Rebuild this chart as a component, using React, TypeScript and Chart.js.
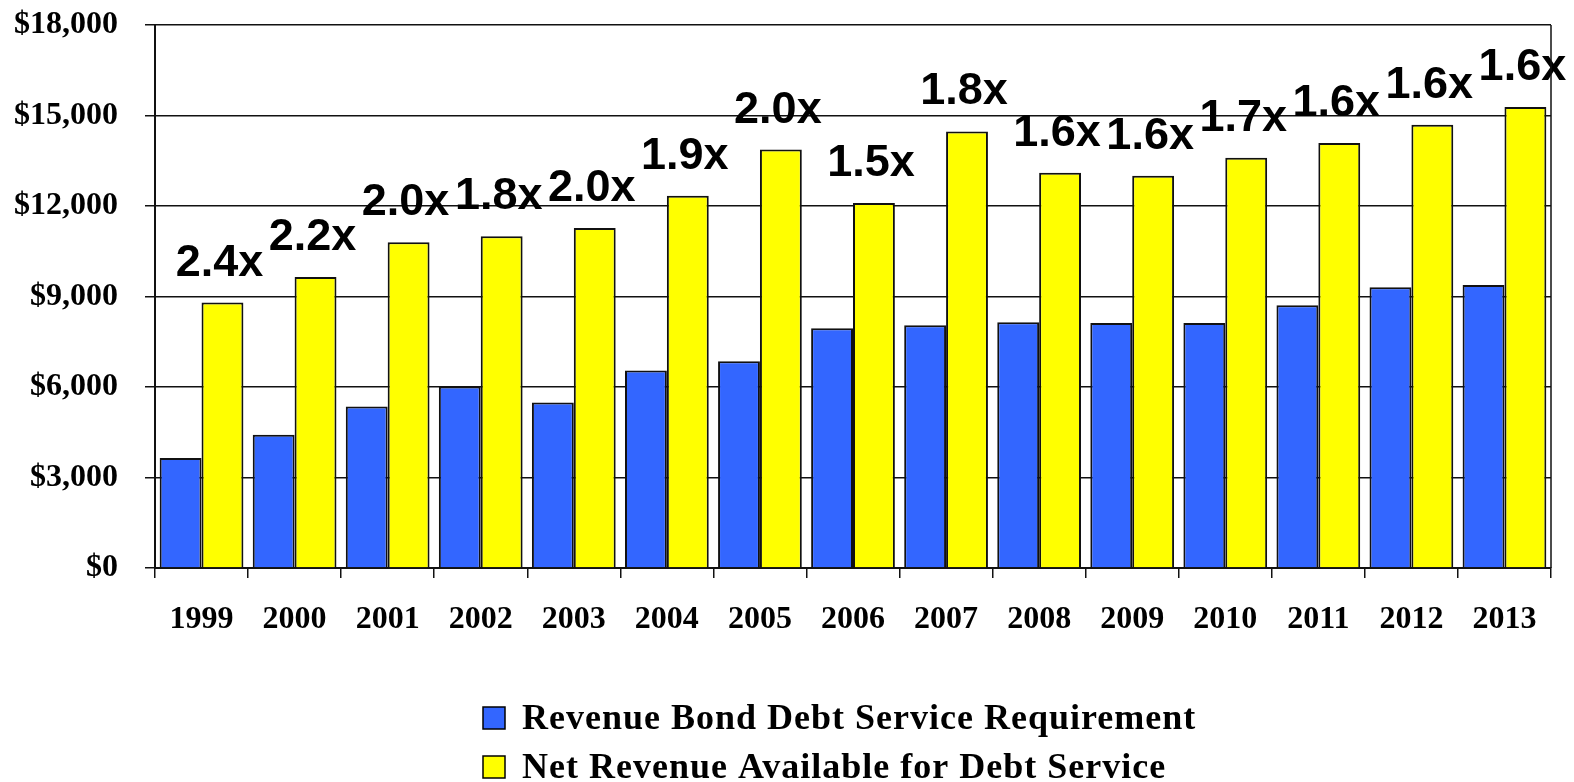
import React, { useEffect, useRef } from 'react';
import { Chart, registerables } from 'chart.js';

Chart.register(...registerables);

const years = ['1999', '2000', '2001', '2002', '2003', '2004', '2005', '2006', '2007', '2008', '2009', '2010', '2011', '2012', '2013'];
const debtService = [3650, 4420, 5350, 6020, 5490, 6550, 6850, 7950, 8050, 8150, 8120, 8120, 8710, 9310, 9380];
const netRevenue = [8800, 9650, 10800, 11000, 11270, 12340, 13870, 12100, 14470, 13100, 13000, 13600, 14090, 14690, 15280];
const coverageLabels = ['2.4x', '2.2x', '2.0x', '1.8x', '2.0x', '1.9x', '2.0x', '1.5x', '1.8x', '1.6x', '1.6x', '1.7x', '1.6x', '1.6x', '1.6x'];
const seriesNames = ['Revenue Bond Debt Service Requirement', 'Net Revenue Available for Debt Service'];
const seriesColors = ['#3366FF', '#FFFF00'];
const yMin = 0;
const yMax = 18000;
const yStep = 3000;

const SERIF = '"Liberation Serif", "Times New Roman", serif';
const SANS = '"Liberation Sans", Arial, sans-serif';

const coveragePlugin = {
  id: 'coverageLabels',
  afterDatasetsDraw(chart: any) {
    const ctx = chart.ctx;
    const meta = chart.getDatasetMeta(1);
    ctx.save();
    ctx.font = `bold 45px ${SANS}`;
    ctx.fillStyle = '#000';
    ctx.textAlign = 'center';
    ctx.textBaseline = 'alphabetic';
    meta.data.forEach((el: any, i: number) => {
      ctx.fillText(coverageLabels[i], el.x - 3, el.y - 27);
    });
    ctx.restore();
  },
};

const framePlugin = {
  id: 'frameAndLegend',
  afterDraw(chart: any) {
    const ctx = chart.ctx;
    const { top, bottom, right } = chart.chartArea;
    ctx.save();
    ctx.strokeStyle = '#111';
    ctx.lineWidth = 1.5;
    ctx.beginPath();
    ctx.moveTo(right, top);
    ctx.lineTo(right, bottom);
    ctx.stroke();

    // legend
    const boxX = 483;
    const textX = 522;
    const baselines = [bottom + 161, bottom + 210];
    ctx.font = `bold 36px ${SERIF}`;
    (ctx as any).letterSpacing = '1px';
    ctx.textAlign = 'left';
    ctx.textBaseline = 'alphabetic';
    chart.data.datasets.forEach((ds: any, i: number) => {
      const b = baselines[i];
      ctx.fillStyle = ds.backgroundColor;
      ctx.fillRect(boxX, b - 22, 22, 22);
      ctx.strokeStyle = '#000';
      ctx.lineWidth = 1.5;
      ctx.strokeRect(boxX, b - 22, 22, 22);
      ctx.fillStyle = '#000';
      ctx.fillText(ds.label, textX, b);
    });
    ctx.restore();
  },
};

export default function App() {
  const canvasRef = useRef<HTMLCanvasElement | null>(null);

  useEffect(() => {
    document.body.style.margin = '0';
    document.body.style.overflow = 'hidden';
    const canvas = canvasRef.current;
    if (!canvas) return;
    const chart = new Chart(canvas, {
      type: 'bar',
      data: {
        labels: years,
        datasets: [
          {
            label: seriesNames[0],
            data: debtService,
            backgroundColor: seriesColors[0],
            borderColor: '#111',
            borderWidth: 2,
            barPercentage: 1.0,
            categoryPercentage: 0.9,
          },
          {
            label: seriesNames[1],
            data: netRevenue,
            backgroundColor: seriesColors[1],
            borderColor: '#111',
            borderWidth: 2,
            barPercentage: 1.0,
            categoryPercentage: 0.9,
          },
        ],
      },
      options: {
        responsive: false,
        animation: false,
        devicePixelRatio: 1,
        layout: { padding: { left: 0, top: 25, right: 23, bottom: 144 } },
        plugins: {
          legend: { display: false },
          tooltip: { enabled: false },
          title: { display: false },
        },
        scales: {
          x: {
            offset: true,
            afterFit: (scale: any) => {
              scale.height = 70;
            },
            grid: {
              display: true,
              offset: true,
              drawOnChartArea: false,
              drawTicks: true,
              tickLength: 10,
              color: '#111',
              lineWidth: 1.5,
            },
            border: { display: true, color: '#111', width: 2 },
            ticks: {
              color: '#000',
              font: { family: SERIF, size: 32, weight: 'bold' },
              padding: 23,
              maxRotation: 0,
              autoSkip: false,
            },
          },
          y: {
            min: yMin,
            max: yMax,
            afterFit: (scale: any) => {
              scale.width = 155;
              scale.paddingTop = 0;
              scale.paddingBottom = 0;
            },
            grid: {
              color: '#111',
              lineWidth: 1.5,
              drawTicks: true,
              tickLength: 10,
            },
            border: { display: true, color: '#111', width: 2 },
            ticks: {
              stepSize: yStep,
              color: '#000',
              padding: 27,
              font: { family: SERIF, size: 32, weight: 'bold' },
              callback: (v: any) => '$' + Number(v).toLocaleString('en-US'),
            },
          },
        },
      },
      plugins: [coveragePlugin, framePlugin],
    });
    return () => chart.destroy();
  }, []);

  return (
    <div style={{ width: 1574, height: 782 }}>
      <canvas ref={canvasRef} width={1574} height={782} style={{ display: 'block' }} />
    </div>
  );
}
